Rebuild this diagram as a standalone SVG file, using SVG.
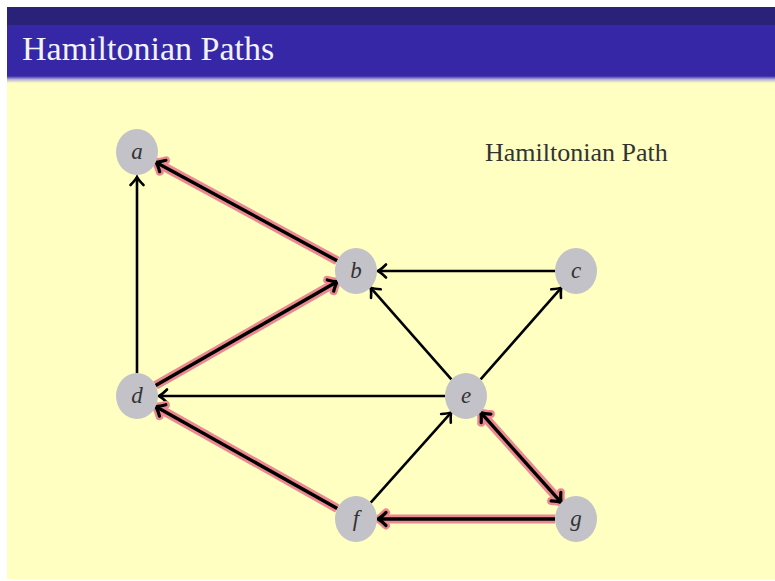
<svg xmlns="http://www.w3.org/2000/svg" width="775" height="581" viewBox="0 0 775 581">
<defs>
<linearGradient id="fade" x1="0" y1="0" x2="0" y2="1">
<stop offset="0" stop-color="#3527a6"/>
<stop offset="0.5" stop-color="#b8b2d8"/>
<stop offset="1" stop-color="#ffffc2"/>
</linearGradient>
<marker id="arr" markerUnits="userSpaceOnUse" markerWidth="20" markerHeight="20" viewBox="-10 -10 20 20" refX="0" refY="0" orient="auto" overflow="visible">
<path d="M-8,-6.5 Q-3,-1.5 0,0 Q-3,1.5 -8,6.5" fill="none" stroke="#000" stroke-width="2.6" stroke-linecap="round"/>
</marker>
<marker id="arrH" markerUnits="userSpaceOnUse" markerWidth="20" markerHeight="20" viewBox="-10 -10 20 20" refX="0" refY="0" orient="auto" overflow="visible">
<path d="M-8,-6.5 Q-3,-1.5 0,0 Q-3,1.5 -8,6.5" fill="none" stroke="#000" stroke-width="3.2" stroke-linecap="round"/>
</marker>
<marker id="arrR" markerUnits="userSpaceOnUse" markerWidth="24" markerHeight="24" viewBox="-12 -12 24 24" refX="0" refY="0" orient="auto" overflow="visible">
<path d="M-8,-6.5 Q-3,-1.5 0,0 Q-3,1.5 -8,6.5" fill="none" stroke="#ec8890" stroke-width="8" stroke-linecap="round"/>
</marker>
<marker id="arrRs" markerUnits="userSpaceOnUse" markerWidth="24" markerHeight="24" viewBox="-12 -12 24 24" refX="0" refY="0" orient="auto-start-reverse" overflow="visible">
<path d="M-8,-6.5 Q-3,-1.5 0,0 Q-3,1.5 -8,6.5" fill="none" stroke="#ec8890" stroke-width="8" stroke-linecap="round"/>
</marker>
<marker id="arrHs" markerUnits="userSpaceOnUse" markerWidth="20" markerHeight="20" viewBox="-10 -10 20 20" refX="0" refY="0" orient="auto-start-reverse" overflow="visible">
<path d="M-8,-6.5 Q-3,-1.5 0,0 Q-3,1.5 -8,6.5" fill="none" stroke="#000" stroke-width="3.2" stroke-linecap="round"/>
</marker>
</defs>
<style>
.node ellipse { fill: #c2c2c8; }
.node text { font-family: "Liberation Serif", "DejaVu Serif", serif; font-style: italic; font-size: 23px; fill: #333; text-anchor: middle; }
.e { stroke: #000; stroke-width: 2.6; fill: none; marker-end: url(#arr); }
.hr { stroke: #ec8890; stroke-width: 9; fill: none; marker-end: url(#arrR); }
.hb { stroke: #000; stroke-width: 3.4; fill: none; marker-end: url(#arrH); }
</style>
<rect x="0" y="0" width="775" height="581" fill="#ffffff"/>
<rect x="7" y="7" width="768" height="572" fill="#ffffc2"/>
<rect x="7" y="7" width="768" height="18" fill="#2a2179"/>
<rect x="7" y="25" width="768" height="51" fill="#3527a6"/>
<rect x="7" y="76" width="768" height="7" fill="url(#fade)"/>
<text x="22" y="60" font-family="Liberation Serif, DejaVu Serif, serif" font-size="34" fill="#f2f2fa">Hamiltonian Paths</text>
<text x="485" y="161" font-family="Liberation Serif, DejaVu Serif, serif" font-size="26" fill="#333">Hamiltonian Path</text>
<g id="connectors">
<line class="e" x1="137" y1="373" x2="137" y2="177"/>
<line class="e" x1="555" y1="271" x2="378" y2="271"/>
<line class="e" x1="451.4" y1="379.4" x2="370.6" y2="287.6"/>
<line class="e" x1="480.6" y1="379.4" x2="561.4" y2="287.6"/>
<line class="e" x1="445" y1="396" x2="159" y2="396"/>
<line class="e" x1="370.7" y1="502.6" x2="451.3" y2="412.4"/>
<line class="hr" x1="337.2" y1="260.8" x2="155.8" y2="162.2"/>
<line class="hb" x1="337.2" y1="260.8" x2="155.8" y2="162.2"/>
<line class="hr" x1="155.6" y1="385.4" x2="337.4" y2="281.6"/>
<line class="hb" x1="155.6" y1="385.4" x2="337.4" y2="281.6"/>
<line class="hr" x1="337.3" y1="508.5" x2="155.7" y2="406.5"/>
<line class="hb" x1="337.3" y1="508.5" x2="155.7" y2="406.5"/>
<line class="hr" x1="555" y1="519" x2="378" y2="519"/>
<line class="hb" x1="555" y1="519" x2="378" y2="519"/>
<line class="hr" x1="480.7" y1="412.4" x2="561.3" y2="502.6" marker-start="url(#arrRs)"/>
<line class="hb" x1="480.7" y1="412.4" x2="561.3" y2="502.6" marker-start="url(#arrHs)"/>
</g>
<g id="node-a" class="node"><ellipse cx="137" cy="152" rx="21" ry="23"/><text x="137" y="159">a</text></g>
<g id="node-b" class="node"><ellipse cx="356" cy="271" rx="21" ry="23"/><text x="356" y="278">b</text></g>
<g id="node-c" class="node"><ellipse cx="576" cy="271" rx="21" ry="23"/><text x="576" y="278">c</text></g>
<g id="node-d" class="node"><ellipse cx="137" cy="396" rx="21" ry="23"/><text x="137" y="403">d</text></g>
<g id="node-e" class="node"><ellipse cx="466" cy="396" rx="21" ry="23"/><text x="466" y="403">e</text></g>
<g id="node-f" class="node"><ellipse cx="356" cy="519" rx="21" ry="23"/><text x="356" y="526">f</text></g>
<g id="node-g" class="node"><ellipse cx="576" cy="519" rx="21" ry="23"/><text x="576" y="526">g</text></g>
</svg>
